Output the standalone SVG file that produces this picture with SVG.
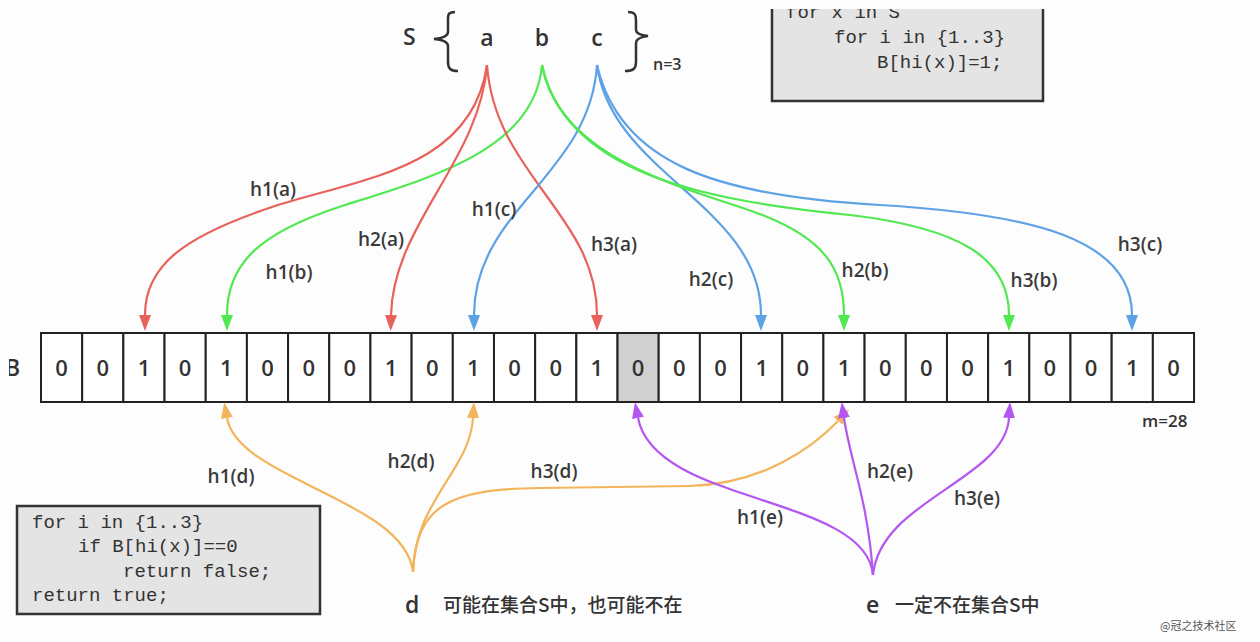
<svg xmlns="http://www.w3.org/2000/svg" width="1260" height="642" viewBox="0 0 1260 642">
<style>
.lbl{font-family:"Open Sans","Noto Sans",sans-serif;font-weight:600;font-size:19px;fill:#3a3a3a;text-anchor:middle}
.bit{font-family:"Open Sans","Noto Sans",sans-serif;font-weight:600;font-size:22px;fill:#333;text-anchor:middle}
.code{font-family:"Liberation Mono","DejaVu Sans Mono",monospace;font-size:19px;fill:#333}
.cell{fill:#fff;stroke:#222;stroke-width:2}
.box{fill:#e4e4e4;stroke:#333;stroke-width:2.5}
.big{font-family:"Open Sans","Noto Sans",sans-serif;font-weight:600;font-size:23px;fill:#333}
.cjk{font-family:"Noto Sans CJK SC","Noto Sans",sans-serif;font-size:19px;font-weight:500;fill:#333}
.c{fill:none;stroke-width:2.2}
.r{stroke:#e8625c}.g{stroke:#52e852}.b{stroke:#5ea2e6}.o{stroke:#f3b55c}.p{stroke:#b457f0}
</style>
<defs>
<marker id="mr" viewBox="0 0 16 12" refX="0" refY="6" markerWidth="16" markerHeight="12" markerUnits="userSpaceOnUse" orient="auto"><path d="M0,0 L16,6 L0,12 z" fill="#e8625c"/></marker>
<marker id="mg" viewBox="0 0 16 12" refX="0" refY="6" markerWidth="16" markerHeight="12" markerUnits="userSpaceOnUse" orient="auto"><path d="M0,0 L16,6 L0,12 z" fill="#52e852"/></marker>
<marker id="mb" viewBox="0 0 16 12" refX="0" refY="6" markerWidth="16" markerHeight="12" markerUnits="userSpaceOnUse" orient="auto"><path d="M0,0 L16,6 L0,12 z" fill="#5ea2e6"/></marker>
<marker id="mo" viewBox="0 0 16 12" refX="0" refY="6" markerWidth="16" markerHeight="12" markerUnits="userSpaceOnUse" orient="auto"><path d="M0,0 L16,6 L0,12 z" fill="#f3b55c"/></marker>
<marker id="mp" viewBox="0 0 16 12" refX="0" refY="6" markerWidth="16" markerHeight="12" markerUnits="userSpaceOnUse" orient="auto"><path d="M0,0 L16,6 L0,12 z" fill="#b457f0"/></marker>
<clipPath id="clipB"><rect x="9" y="340" width="20" height="50"/></clipPath>
<clipPath id="clipTop"><rect x="760" y="9" width="300" height="100"/></clipPath>
</defs>
<rect width="1260" height="642" fill="#fdfdfd"/>

<g id="set-S">
<text class="big" x="403" y="45">S</text>
<path d="M455,12 C447,12 448,16 448,22 L448,32 C448,36 444,38 434,39 C444,40 448,42 448,46 L448,62 C448,68 450,71 458,71" fill="none" stroke="#333" stroke-width="2.5"/>
<text class="big" x="487" y="46" text-anchor="middle">a</text>
<text class="big" x="542" y="46" text-anchor="middle">b</text>
<text class="big" x="597" y="46" text-anchor="middle">c</text>
<path d="M628,12 C636,12 636,16 636,22 L636,30 C636,33 640,35 648,36 C640,37 636,39 636,43 L636,62 C636,68 634,71 625,71" fill="none" stroke="#333" stroke-width="2.5"/>
<text x="653" y="70" font-family="Open Sans, Noto Sans, sans-serif" font-weight="600" font-size="16" fill="#333">n=3</text>
</g>

<g id="code-insert">
<g clip-path="url(#clipTop)">
<rect class="box" x="772" y="-10" width="271" height="111"/>
<text class="code" x="786" y="18">for x in S</text>
</g>
<text class="code" x="834" y="43">for i in {1..3}</text>
<text class="code" x="877" y="68">B[hi(x)]=1;</text>
</g>

<g id="bit-array">
<text class="big" x="5" y="376" clip-path="url(#clipB)">B</text>
<rect class="cell" x="41" y="333" width="41.18" height="69"/>
<rect class="cell" x="82.18" y="333" width="41.18" height="69"/>
<rect class="cell" x="123.36" y="333" width="41.18" height="69"/>
<rect class="cell" x="164.54" y="333" width="41.18" height="69"/>
<rect class="cell" x="205.72" y="333" width="41.18" height="69"/>
<rect class="cell" x="246.9" y="333" width="41.18" height="69"/>
<rect class="cell" x="288.08" y="333" width="41.18" height="69"/>
<rect class="cell" x="329.26" y="333" width="41.18" height="69"/>
<rect class="cell" x="370.44" y="333" width="41.18" height="69"/>
<rect class="cell" x="411.62" y="333" width="41.18" height="69"/>
<rect class="cell" x="452.8" y="333" width="41.18" height="69"/>
<rect class="cell" x="493.98" y="333" width="41.18" height="69"/>
<rect class="cell" x="535.16" y="333" width="41.18" height="69"/>
<rect class="cell" x="576.34" y="333" width="41.18" height="69"/>
<rect class="cell" x="617.52" y="333" width="41.18" height="69" style="fill:#d0d0d0"/>
<rect class="cell" x="658.7" y="333" width="41.18" height="69"/>
<rect class="cell" x="699.88" y="333" width="41.18" height="69"/>
<rect class="cell" x="741.06" y="333" width="41.18" height="69"/>
<rect class="cell" x="782.24" y="333" width="41.18" height="69"/>
<rect class="cell" x="823.42" y="333" width="41.18" height="69"/>
<rect class="cell" x="864.6" y="333" width="41.18" height="69"/>
<rect class="cell" x="905.78" y="333" width="41.18" height="69"/>
<rect class="cell" x="946.96" y="333" width="41.18" height="69"/>
<rect class="cell" x="988.14" y="333" width="41.18" height="69"/>
<rect class="cell" x="1029.32" y="333" width="41.18" height="69"/>
<rect class="cell" x="1070.5" y="333" width="41.18" height="69"/>
<rect class="cell" x="1111.68" y="333" width="41.18" height="69"/>
<rect class="cell" x="1152.86" y="333" width="41.18" height="69"/>
<text class="bit" y="376"><tspan x="61.6">0</tspan><tspan x="102.8">0</tspan><tspan x="144">1</tspan><tspan x="185.1">0</tspan><tspan x="226.3">1</tspan><tspan x="267.5">0</tspan><tspan x="308.7">0</tspan><tspan x="349.9">0</tspan><tspan x="391">1</tspan><tspan x="432.2">0</tspan><tspan x="473.4">1</tspan><tspan x="514.6">0</tspan><tspan x="555.8">0</tspan><tspan x="596.9">1</tspan><tspan x="638.1">0</tspan><tspan x="679.3">0</tspan><tspan x="720.5">0</tspan><tspan x="761.7">1</tspan><tspan x="802.8">0</tspan><tspan x="844">1</tspan><tspan x="885.2">0</tspan><tspan x="926.4">0</tspan><tspan x="967.6">0</tspan><tspan x="1008.7">1</tspan><tspan x="1049.9">0</tspan><tspan x="1091.1">0</tspan><tspan x="1132.3">1</tspan><tspan x="1173.5">0</tspan></text>
<text x="1142" y="427" font-family="Open Sans, Noto Sans, sans-serif" font-weight="600" font-size="17" fill="#333">m=28</text>
</g>

<g id="code-query">
<rect class="box" x="17" y="506" width="303" height="108"/>
<text class="code" x="32" y="528">for i in {1..3}</text>
<text class="code" x="78" y="552">if B[hi(x)]==0</text>
<text class="code" x="123" y="577">return false;</text>
<text class="code" x="32" y="601">return true;</text>
</g>

<g id="query-d">
<text class="big" x="405" y="613">d</text>
<text class="cjk" x="443" y="612">可能在集合S中，也可能不在</text>
</g>
<g id="query-e">
<text class="big" x="866" y="613">e</text>
<text class="cjk" x="895" y="612">一定不在集合S中</text>
</g>

<g id="connectors">
<path class="c r" marker-end="url(#mr)" d="M487,65 C472,170 360,178 272,207 C185,236 145,265 145,315"/>
<path class="c g" marker-end="url(#mg)" d="M542,65 C535,150 430,178 342,206 C262,232 227,262 227,315"/>
<path class="c r" marker-end="url(#mr)" d="M487,65 C480,160 393,225 391,315"/>
<path class="c r" marker-end="url(#mr)" d="M487,65 C495,175 597,215 597,315"/>
<path class="c b" marker-end="url(#mb)" d="M597,65 C590,175 474,210 474,315"/>
<path class="c b" marker-end="url(#mb)" d="M597,65 C612,175 761,205 761,315"/>
<path class="c b" marker-end="url(#mb)" d="M597,65 C620,165 720,196 880,205 C1030,214 1132,238 1132,315"/>
<path class="c g" marker-end="url(#mg)" d="M542,65 C560,165 700,190 765,216 C825,240 844,270 844,315"/>
<path class="c g" marker-end="url(#mg)" d="M542,65 C565,172 700,200 850,215 C960,228 1009,258 1009,315"/>

<path class="c o" marker-end="url(#mo)" d="M413,572 C405,500 238,480 227,418"/>
<path class="c o" marker-end="url(#mo)" d="M413,572 C415,500 470,470 473,418"/>
<path class="c o" marker-end="url(#mo)" d="M413,572 C416,505 450,489 540,488 L690,486 C765,484 815,445 838,421"/>
<path class="c p" marker-end="url(#mp)" d="M873,575 C866,495 655,505 638,418"/>
<path class="c p" marker-end="url(#mp)" d="M873,575 C868,500 850,460 844,418"/>
<path class="c p" marker-end="url(#mp)" d="M873,575 C880,500 1005,480 1009,418"/>

<text class="lbl" x="273" y="196">h1(a)</text>
<text class="lbl" x="289" y="279">h1(b)</text>
<text class="lbl" x="381" y="246">h2(a)</text>
<text class="lbl" x="494" y="216">h1(c)</text>
<text class="lbl" x="614" y="251">h3(a)</text>
<text class="lbl" x="711" y="286">h2(c)</text>
<text class="lbl" x="865" y="277">h2(b)</text>
<text class="lbl" x="1034" y="287">h3(b)</text>
<text class="lbl" x="1140" y="251">h3(c)</text>
<text class="lbl" x="231" y="483">h1(d)</text>
<text class="lbl" x="411" y="468">h2(d)</text>
<text class="lbl" x="554" y="478">h3(d)</text>
<text class="lbl" x="760" y="524">h1(e)</text>
<text class="lbl" x="890" y="478">h2(e)</text>
<text class="lbl" x="977" y="505">h3(e)</text>
</g>

<text x="1160" y="630" font-family="Noto Sans CJK SC, Noto Sans, sans-serif" font-size="11" fill="#555">@冠之技术社区</text>
</svg>
